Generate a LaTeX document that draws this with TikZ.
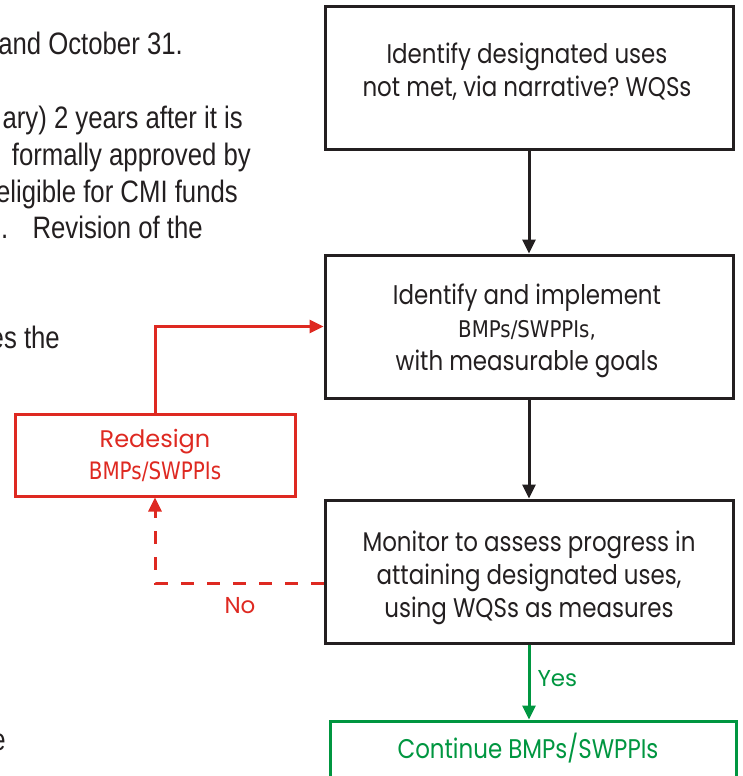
\documentclass[tikz,border=0pt]{standalone}
\usepackage{fontspec}
\setmainfont{Liberation Sans}
\newfontfamily\boxfont[FakeStretch=0.85]{Poppins}
\newfontfamily\widefont{Poppins}
\newfontfamily\narrowfont[FakeStretch=0.83]{Liberation Sans}
\newfontfamily\bmpfont[FakeStretch=0.86]{DejaVu Sans}
\newfontfamily\bmpredfont[FakeStretch=0.83]{DejaVu Sans}
\usetikzlibrary{arrows.meta}
\definecolor{ink}{RGB}{35,31,32}
\definecolor{redc}{RGB}{222,41,33}
\definecolor{greenc}{RGB}{0,150,64}
\frenchspacing
\begin{document}
\begin{tikzpicture}[x=1pt,y=-1pt,
  box/.style={draw=ink, line width=3pt, minimum width=408pt, minimum height=143pt, inner sep=0pt},
  txt/.style={text=ink, align=center, inner sep=0pt, font=\boxfont\fontsize{27}{33}\selectfont},
  arr/.style={line width=3pt, -{Triangle[length=14pt,width=13pt]}},
  lbl/.style={inner sep=0pt, font=\widefont\fontsize{23}{26}\selectfont},
  bodytext/.style={anchor=base east, inner sep=0pt, text=ink, font=\narrowfont\fontsize{31}{37}\selectfont}]
\useasboundingbox (0,0) rectangle (743,776);
\clip (0,0) rectangle (743,776);
% background page text
\node[bodytext] (p1) at (183,55) {and October 31.};
\node[bodytext] (p2) at (243,128) {ary) 2 years after it is};
\node[bodytext] (p3) at (251,165) {formally approved by};
\node[bodytext] (p4) at (238,202) {eligible for CMI funds};
\node[bodytext, anchor=base west] (p5a) at (1,238) {.};
\node[bodytext] (p5) at (203,238) {Revision of the};
\node[bodytext] (p6) at (60,348) {es the};
\node[bodytext] (p7) at (6,750) {e};
% boxes
\node[box] (b1) at (529,78) {};
\node[txt] (t1) at (527,72) {Identify designated uses\\not met, via narrative? WQSs};
\node[box] (b2) at (529,326.5) {};
\node[txt] (t2) at (527,331) {Identify and implement\\{\bmpfont\fontsize{23}{33}\selectfont BMPs/SWPPIs,}\\with measurable goals};
\node[box] (b3) at (529,571.5) {};
\node[txt] (t3) at (529,578) {Monitor to assess progress in\\attaining designated uses,\\using WQSs as measures};
\node[draw=greenc, line width=3pt, minimum width=406pt, minimum height=80pt, inner sep=0pt] (b4) at (533,761) {};
\node[txt, text=greenc] (t4) at (528,748) {Continue BMPs/SWPPIs};
\node[draw=redc, line width=3pt, minimum width=280pt, minimum height=82pt, inner sep=0pt, align=center, text=redc, font=\widefont\fontsize{24}{32}\selectfont] (rb) at (155,455) {Redesign\\{\bmpredfont\fontsize{24}{32}\selectfont BMPs/SWPPIs}};
% connectors
\draw[arr, ink] (b1.south) -- (b2.north);
\draw[arr, ink] (b2.south) -- (b3.north);
\draw[arr, greenc] (b3.south) -- (b3.south |- b4.north) node[lbl, pos=0.45, right=7pt, text=greenc] (yes) {Yes};
\draw[arr, redc] (rb.north) |- (b2.west);
\draw[arr, redc, dash pattern=on 13pt off 13pt] ([yshift=-11.5pt]b3.west) -| (rb.south);
\node[lbl, text=redc] (no) at (240,606) {No};
\end{tikzpicture}
\end{document}
